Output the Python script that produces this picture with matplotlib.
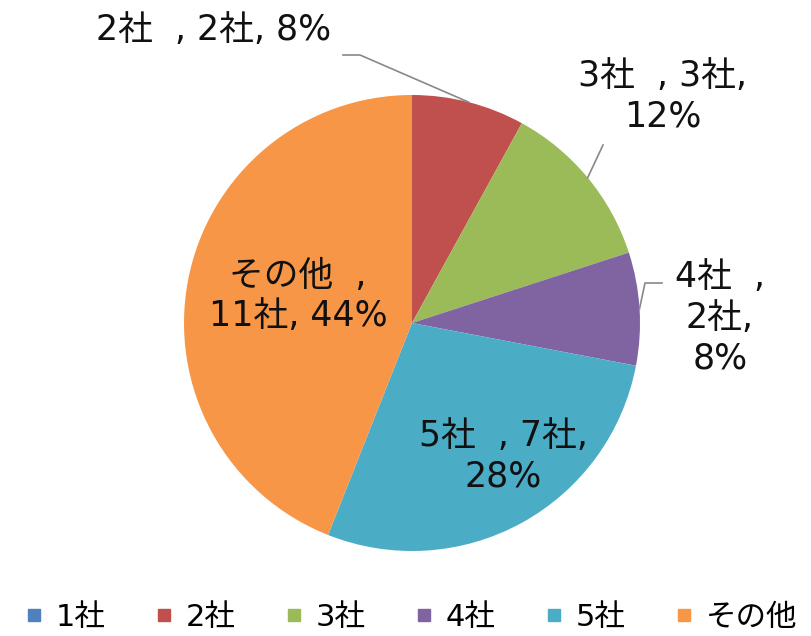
import matplotlib.pyplot as plt
import numpy as np
from matplotlib.lines import Line2D

plt.rcParams['font.family'] = ['DejaVu Sans', 'Noto Sans CJK JP']

categories = ["1社", "2社", "3社", "4社", "5社", "その他"]
counts = [0, 2, 3, 2, 7, 11]
percents = ["0%", "8%", "12%", "8%", "28%", "44%"]
colors = ["#4F81BD", "#C0504D", "#9BBB59", "#8064A2", "#4BACC6", "#F79646"]

fig = plt.figure(figsize=(8.11, 6.36), dpi=100)
ax = fig.add_axes([0, 0, 1, 1])

cx, cy, r = 412, 636 - 323, 228
wedges, _ = ax.pie(counts, colors=colors, startangle=90, counterclock=False,
                   center=(cx, cy), radius=r, frame=True,
                   wedgeprops=dict(linewidth=0))
ax.set_xlim(0, 811)
ax.set_ylim(0, 636)
ax.set_aspect("equal")
ax.axis("off")

# label text and placement (pixel coords from top-left)
labels = {
    1: ("2社  , 2社, 8%", (214, 30), [(343, 55), (360, 55)]),
    2: ("3社  , 3社,\n12%", (663, 96), [(603, 145)]),
    3: ("4社  ,\n2社,\n8%", (720, 318), [(662, 283), (645, 283)]),
    4: ("5社  , 7社,\n28%", (503, 456), None),
    5: ("その他  ,\n11社, 44%", (298, 296), None),
}

total = sum(counts)
for i, (txt, (px, py), leader) in labels.items():
    ax.text(px, 636 - py, txt, ha="center", va="center", fontsize=25,
            color="#111111", linespacing=1.25)
    if leader:
        start = 90 - 360 * sum(counts[:i]) / total
        mid = np.radians(start - 180 * counts[i] / total)
        ex, ey = cx + r * np.cos(mid), cy + r * np.sin(mid)
        xs = [p[0] for p in leader] + [ex]
        ys = [636 - p[1] for p in leader] + [ey]
        ax.plot(xs, ys, color="#888888", lw=1.2)

handles = [Line2D([], [], marker="s", color=c, linestyle="", markersize=8.5)
           for c in colors]
fig.legend(handles, categories, loc="center", bbox_to_anchor=(0.505, 1 - 617 / 636),
           ncol=6, frameon=False, fontsize=22, handletextpad=0.3,
           columnspacing=1.52, handlelength=0.8)

fig.savefig("out.png", dpi=100)
